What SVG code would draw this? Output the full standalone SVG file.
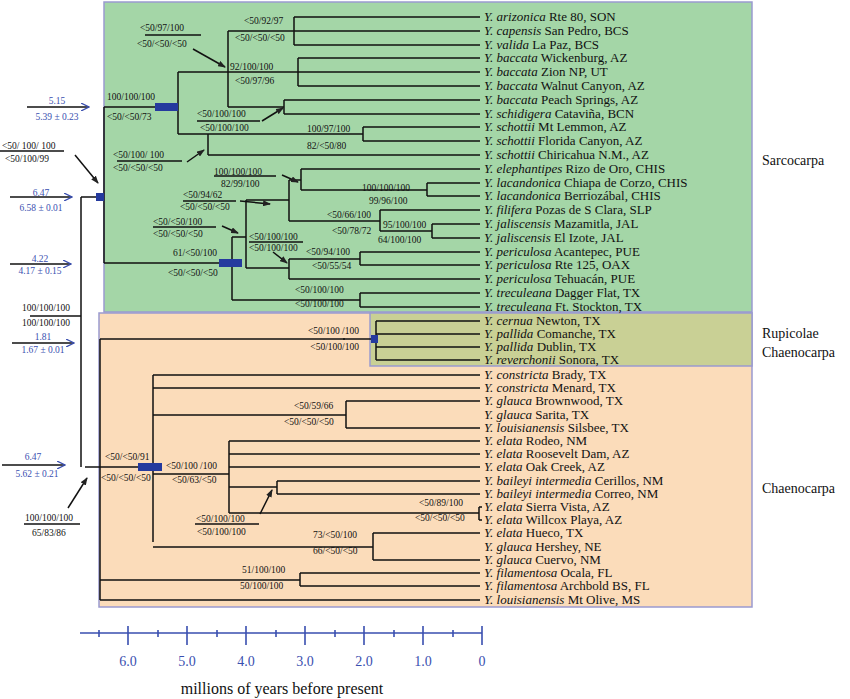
<svg xmlns="http://www.w3.org/2000/svg" width="850" height="699" viewBox="0 0 850 699">
<style>
text{font-family:"Liberation Serif","Times New Roman",serif;fill:#111}
.t{font-size:13px}
.s{font-size:9.5px}
.b{font-size:9.5px;fill:#3a4fb0;text-anchor:middle}
.c{font-size:14px}
.e{font-style:italic}
.ax{font-size:14px;fill:#3a4fb0;text-anchor:middle}
.ln path,.ln line{stroke:#111;stroke-width:1.5;fill:none}
.bl{stroke:#2a3a9c;stroke-width:1.5;fill:none}
.ar{stroke:#222;stroke-width:1;marker-end:url(#ah)}
.ab{stroke:#3a4fb0;stroke-width:1.3;marker-end:url(#bh)}
.ul{stroke:#111;stroke-width:1.2}
.bar{fill:#253a9e}
</style>
<defs>
<marker id="ah" markerWidth="8" markerHeight="6" refX="7" refY="3" orient="auto" markerUnits="userSpaceOnUse"><path d="M0,0L8,3L0,6z" fill="#222"/></marker>
<marker id="bh" markerWidth="9" markerHeight="8" refX="8" refY="4" orient="auto" markerUnits="userSpaceOnUse"><path d="M0,0L8,4L0,8" fill="none" stroke="#3a4fb0" stroke-width="1.3"/></marker>
</defs>
<rect width="850" height="699" fill="#fff"/>
<g id="clades">
<rect x="104" y="2" width="648" height="310" fill="#a4d6a7" stroke="#9a9ad0" stroke-width="1.5"/>
<rect x="99" y="313" width="653" height="294" fill="#fbdcba" stroke="#9a9ad0" stroke-width="1.5"/>
<rect x="370" y="313" width="382" height="53" fill="#c9d095" stroke="#9a9ad0" stroke-width="1.5"/>
<text class="c" x="762" y="165">Sarcocarpa</text>
<text class="c" x="762" y="338">Rupicolae</text>
<text class="c" x="762" y="357">Chaenocarpa</text>
<text class="c" x="762" y="493">Chaenocarpa</text>
</g>
<g id="connectors" class="ln">
<path d="M294,17V45M228,31H294M298,58V86M178,72H298M284,100V114M228,107H284M228,31V107M178,72V134M178,134H363M363,127V141M208,134V155M104,107H178"/>
<path d="M301,169V190M427,183V196M301,190H427M380,210V231M432,224V238M380,231H432M289,180H301M289,221H380M289,180V221M246,200H289M360,252V265M289,259H360M289,259V279M246,268H289M246,200V268M232,237H246M360,293V307M232,300H360M232,237V300M104,263H232M104,107V263M81,197H104M81,197V467"/>
<path d="M376,321V360M100,339H345M100,339V600"/>
<path d="M153,375V542M346,401V428M153,415H346M153,474H229M229,441V513M229,487H277M277,481V494M229,513H479M479,507V520M153,547H373M373,533V560M100,580H300M300,573V586M162,467H153"/>
<path d="M294,17H480M294,31H480M294,45H480M298,58H480M298,72H480M298,86H480M284,100H480M284,114H480M363,127H480M363,141H480M208,155H480M301,169H480M427,183H480M427,196H480M380,210H480M432,224H480M432,238H480M360,252H480M360,265H480M289,279H480M360,293H480M360,307H480"/>
<path d="M376,321H480M376,334H480M376,347H480M376,360H480"/>
<path d="M153,375H480M153,388H480M346,401H480M346,428H480M229,441H480M229,454H480M229,467H480M277,481H480M277,494H480M479,507H482M479,520H482M373,533H480M373,560H480M300,573H480M300,586H480M100,600H480"/>
<line class="bl" x1="343" y1="339" x2="376" y2="339"/>
<line class="bl" x1="85" y1="467" x2="140" y2="467"/>
<rect class="bar" x="155" y="103" width="23" height="8"/>
<rect class="bar" x="219" y="259" width="23" height="8"/>
<rect class="bar" x="96" y="193" width="8" height="8"/>
<rect class="bar" x="371" y="335" width="7" height="8"/>
<rect class="bar" x="138" y="463" width="24" height="8"/>
<line class="ar" x1="193" y1="49" x2="225" y2="67"/>
<line class="ar" x1="262" y1="121" x2="283" y2="108"/>
<line class="ar" x1="187" y1="162" x2="204" y2="150"/>
<line class="ar" x1="282" y1="175" x2="298" y2="182"/>
<line class="ar" x1="240" y1="201" x2="270" y2="204"/>
<line class="ar" x1="222" y1="226" x2="238" y2="233"/>
<line class="ar" x1="273" y1="252" x2="287" y2="263"/>
<line class="ar" x1="75" y1="155" x2="98" y2="183"/>
<line class="ar" x1="68" y1="508" x2="87" y2="478"/>
<line class="ar" x1="260" y1="514" x2="272" y2="490"/>
<line class="ab" x1="27" y1="107" x2="89" y2="107"/>
<line class="ab" x1="10" y1="197" x2="72" y2="197"/>
<line class="ab" x1="10" y1="264" x2="71" y2="264"/>
<line class="ab" x1="12" y1="343" x2="74" y2="343"/>
<line class="ab" x1="2" y1="465" x2="65" y2="465"/>
<line class="ul" x1="145" y1="35" x2="201" y2="35"/>
<line class="ul" x1="197" y1="121" x2="260" y2="121"/>
<line class="ul" x1="117" y1="161" x2="182" y2="161"/>
<line class="ul" x1="214" y1="176" x2="276" y2="176"/>
<line class="ul" x1="183" y1="201" x2="236" y2="201"/>
<line class="ul" x1="153" y1="227" x2="216" y2="227"/>
<line class="ul" x1="249" y1="242" x2="303" y2="242"/>
<line class="ul" x1="0" y1="151" x2="64" y2="151"/>
<line class="ul" x1="30" y1="316" x2="81" y2="316"/>
<line class="ul" x1="24" y1="524" x2="80" y2="524"/>
<line class="ul" x1="195" y1="524" x2="259" y2="524"/>
</g>
<g id="support" class="s">
<text class="s" x="244" y="24">&lt;50/92/97</text>
<text class="s" x="235" y="41">&lt;50/&lt;50/&lt;50</text>
<text class="s" x="140" y="31">&lt;50/97/100</text>
<text class="s" x="137" y="47">&lt;50/&lt;50/&lt;50</text>
<text class="s" x="230" y="70">92/100/100</text>
<text class="s" x="235" y="84">&lt;50/97/96</text>
<text class="s" x="107" y="100">100/100/100</text>
<text class="s" x="107" y="120">&lt;50/&lt;50/73</text>
<text class="s" x="197" y="117">&lt;50/100/100</text>
<text class="s" x="200" y="131">&lt;50/100/100</text>
<text class="s" x="307" y="132">100/97/100</text>
<text class="s" x="307" y="149">82/&lt;50/80</text>
<text class="s" x="113" y="158">&lt;50/100/ 100</text>
<text class="s" x="113" y="171">&lt;50/&lt;50/&lt;50</text>
<text class="s" x="214" y="175">100/100/100</text>
<text class="s" x="221" y="187">82/99/100</text>
<text class="s" x="362" y="191">100/100/100</text>
<text class="s" x="369" y="204">99/96/100</text>
<text class="s" x="183" y="198">&lt;50/94/62</text>
<text class="s" x="180" y="210" font-size="8.5">&lt;50/&lt;50/&lt;50</text>
<text class="s" x="153" y="225">&lt;50/&lt;50/100</text>
<text class="s" x="153" y="237">&lt;50/&lt;50/&lt;50</text>
<text class="s" x="327" y="218">&lt;50/66/100</text>
<text class="s" x="332" y="234">&lt;50/78/72</text>
<text class="s" x="383" y="228">95/100/100</text>
<text class="s" x="378" y="243">64/100/100</text>
<text class="s" x="249" y="240">&lt;50/100/100</text>
<text class="s" x="249" y="251">&lt;50/100/100</text>
<text class="s" x="173" y="256">61/&lt;50/100</text>
<text class="s" x="168" y="276">&lt;50/&lt;50/&lt;50</text>
<text class="s" x="306" y="255">&lt;50/94/100</text>
<text class="s" x="312" y="269">&lt;50/55/54</text>
<text class="s" x="295" y="293">&lt;50/100/100</text>
<text class="s" x="295" y="307">&lt;50/100/100</text>
<text class="s" x="2" y="149">&lt;50/ 100/ 100</text>
<text class="s" x="5" y="162">&lt;50/100/99</text>
<text class="s" x="22" y="311">100/100/100</text>
<text class="s" x="22" y="326">100/100/100</text>
<text class="s" x="25" y="521">100/100/100</text>
<text class="s" x="32" y="536">65/83/86</text>
<text class="s" x="359" y="334" text-anchor="end">&lt;50/100 /100</text>
<text class="s" x="359" y="350" text-anchor="end">&lt;50/100/100</text>
<text class="s" x="294" y="409">&lt;50/59/66</text>
<text class="s" x="284" y="425">&lt;50/&lt;50/&lt;50</text>
<text class="s" x="105" y="460">&lt;50/&lt;50/91</text>
<text class="s" x="101" y="481">&lt;50/&lt;50/&lt;50</text>
<text class="s" x="166" y="469">&lt;50/100 /100</text>
<text class="s" x="172" y="483">&lt;50/63/&lt;50</text>
<text class="s" x="196" y="522">&lt;50/100/100</text>
<text class="s" x="197" y="535">&lt;50/100/100</text>
<text class="s" x="419" y="506">&lt;50/89/100</text>
<text class="s" x="415" y="521">&lt;50/&lt;50/&lt;50</text>
<text class="s" x="313" y="538">73/&lt;50/100</text>
<text class="s" x="313" y="554">66/&lt;50/&lt;50</text>
<text class="s" x="242" y="573">51/100/100</text>
<text class="s" x="240" y="589">50/100/100</text>
</g>
<g id="ages">
<text class="b" x="57" y="104">5.15</text>
<text class="b" x="57" y="120">5.39 ± 0.23</text>
<text class="b" x="41" y="196">6.47</text>
<text class="b" x="41" y="211">6.58 ± 0.01</text>
<text class="b" x="40" y="262">4.22</text>
<text class="b" x="40" y="274">4.17 ± 0.15</text>
<text class="b" x="43" y="340">1.81</text>
<text class="b" x="43" y="353">1.67 ± 0.01</text>
<text class="b" x="33" y="460">6.47</text>
<text class="b" x="37" y="477">5.62 ± 0.21</text>
</g>
<g id="taxa" class="t">
<text class="t" x="484" y="21"><tspan class="e">Y. arizonica</tspan> Rte 80, SON</text>
<text class="t" x="484" y="35"><tspan class="e">Y. capensis</tspan> San Pedro, BCS</text>
<text class="t" x="484" y="49"><tspan class="e">Y. valida</tspan> La Paz, BCS</text>
<text class="t" x="484" y="62"><tspan class="e">Y. baccata</tspan> Wickenburg, AZ</text>
<text class="t" x="484" y="76"><tspan class="e">Y. baccata</tspan> Zion NP, UT</text>
<text class="t" x="484" y="90"><tspan class="e">Y. baccata</tspan> Walnut Canyon, AZ</text>
<text class="t" x="484" y="104"><tspan class="e">Y. baccata</tspan> Peach Springs, AZ</text>
<text class="t" x="484" y="118"><tspan class="e">Y. schidigera</tspan> Cataviña, BCN</text>
<text class="t" x="484" y="131"><tspan class="e">Y. schottii</tspan> Mt Lemmon, AZ</text>
<text class="t" x="484" y="145"><tspan class="e">Y. schottii</tspan> Florida Canyon, AZ</text>
<text class="t" x="484" y="159"><tspan class="e">Y. schottii</tspan> Chiricahua N.M., AZ</text>
<text class="t" x="484" y="173"><tspan class="e">Y. elephantipes</tspan> Rizo de Oro, CHIS</text>
<text class="t" x="484" y="187"><tspan class="e">Y. lacandonica</tspan> Chiapa de Corzo, CHIS</text>
<text class="t" x="484" y="200"><tspan class="e">Y. lacandonica</tspan> Berriozábal, CHIS</text>
<text class="t" x="484" y="214"><tspan class="e">Y. filifera</tspan> Pozas de S Clara, SLP</text>
<text class="t" x="484" y="228"><tspan class="e">Y. jaliscensis</tspan> Mazamitla, JAL</text>
<text class="t" x="484" y="242"><tspan class="e">Y. jaliscensis</tspan> El Izote, JAL</text>
<text class="t" x="484" y="256"><tspan class="e">Y. periculosa</tspan> Acantepec, PUE</text>
<text class="t" x="484" y="269"><tspan class="e">Y. periculosa</tspan> Rte 125, OAX</text>
<text class="t" x="484" y="283"><tspan class="e">Y. periculosa</tspan> Tehuacán, PUE</text>
<text class="t" x="484" y="297"><tspan class="e">Y. treculeana</tspan> Dagger Flat, TX</text>
<text class="t" x="484" y="311"><tspan class="e">Y. treculeana</tspan> Ft. Stockton, TX</text>
<text class="t" x="484" y="325"><tspan class="e">Y. cernua</tspan> Newton, TX</text>
<text class="t" x="484" y="338"><tspan class="e">Y. pallida</tspan> Comanche, TX</text>
<text class="t" x="484" y="351"><tspan class="e">Y. pallida</tspan> Dublin, TX</text>
<text class="t" x="484" y="364"><tspan class="e">Y. reverchonii</tspan> Sonora, TX</text>
<text class="t" x="484" y="379"><tspan class="e">Y. constricta</tspan> Brady, TX</text>
<text class="t" x="484" y="392"><tspan class="e">Y. constricta</tspan> Menard, TX</text>
<text class="t" x="484" y="405"><tspan class="e">Y. glauca</tspan> Brownwood, TX</text>
<text class="t" x="484" y="419"><tspan class="e">Y. glauca</tspan> Sarita, TX</text>
<text class="t" x="484" y="432"><tspan class="e">Y. louisianensis</tspan> Silsbee, TX</text>
<text class="t" x="484" y="445"><tspan class="e">Y. elata</tspan> Rodeo, NM</text>
<text class="t" x="484" y="458"><tspan class="e">Y. elata</tspan> Roosevelt Dam, AZ</text>
<text class="t" x="484" y="471"><tspan class="e">Y. elata</tspan> Oak Creek, AZ</text>
<text class="t" x="484" y="485"><tspan class="e">Y. baileyi intermedia</tspan> Cerillos, NM</text>
<text class="t" x="484" y="498"><tspan class="e">Y. baileyi intermedia</tspan> Correo, NM</text>
<text class="t" x="484" y="511"><tspan class="e">Y. elata</tspan> Sierra Vista, AZ</text>
<text class="t" x="484" y="524"><tspan class="e">Y. elata</tspan> Willcox Playa, AZ</text>
<text class="t" x="484" y="537"><tspan class="e">Y. elata</tspan> Hueco, TX</text>
<text class="t" x="484" y="551"><tspan class="e">Y. glauca</tspan> Hershey, NE</text>
<text class="t" x="484" y="564"><tspan class="e">Y. glauca</tspan> Cuervo, NM</text>
<text class="t" x="484" y="577"><tspan class="e">Y. filamentosa</tspan> Ocala, FL</text>
<text class="t" x="484" y="590"><tspan class="e">Y. filamentosa</tspan> Archbold BS, FL</text>
<text class="t" x="484" y="604"><tspan class="e">Y. louisianensis</tspan> Mt Olive, MS</text>
</g>
<g id="axis">
<path d="M80,633H482M128,626V645M187,626V645M246,626V645M305,626V645M364,626V645M423,626V645M482,626V645M99,630V637M158,630V637M217,630V637M276,630V637M335,630V637M394,630V637M453,630V637" stroke="#3a4fb0" stroke-width="1.6" fill="none"/>
<text class="ax" x="128" y="666">6.0</text><text class="ax" x="187" y="666">5.0</text><text class="ax" x="246" y="666">4.0</text><text class="ax" x="305" y="666">3.0</text><text class="ax" x="364" y="666">2.0</text><text class="ax" x="423" y="666">1.0</text><text class="ax" x="482" y="666">0</text>
<text x="282" y="694" style="font-size:16px" text-anchor="middle">millions of years before present</text>
</g>
</svg>
